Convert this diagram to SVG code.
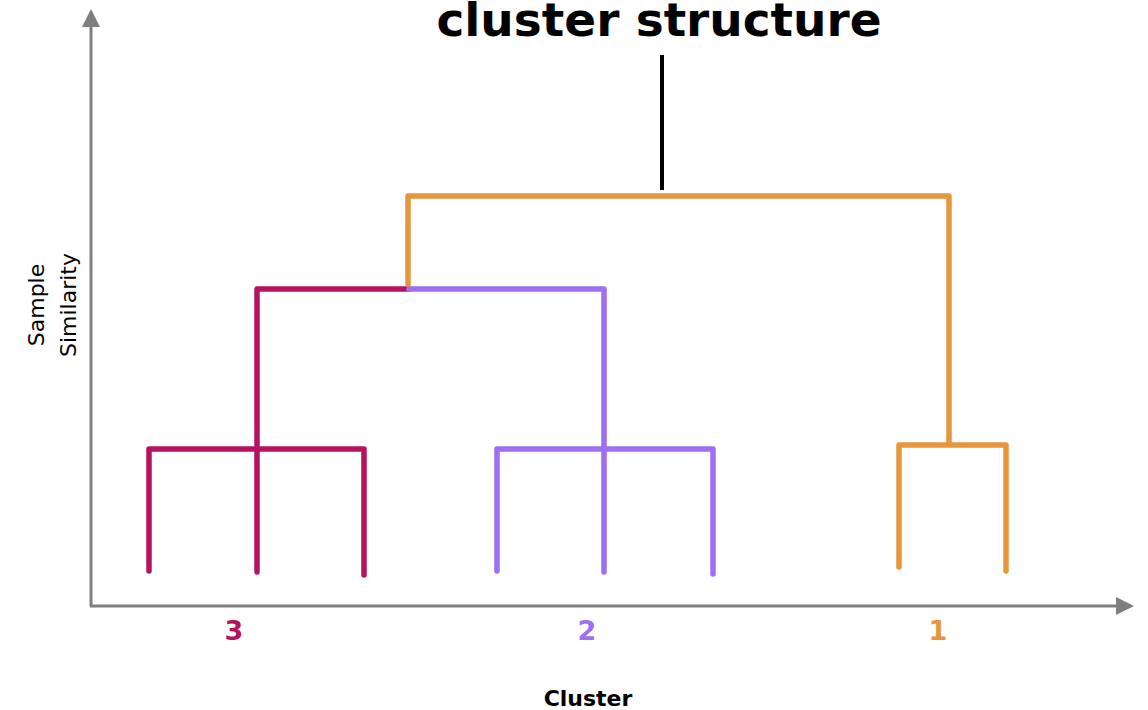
<svg xmlns="http://www.w3.org/2000/svg" width="1148" height="710" viewBox="0 0 1148 710">
<style>
.ax{stroke:#7f7f7f;stroke-width:3;fill:none}
.m{stroke:#B5135F;stroke-width:5.5;fill:none;stroke-linecap:round;stroke-linejoin:round}
.p{stroke:#9F6EF2;stroke-width:5.5;fill:none;stroke-linecap:round;stroke-linejoin:round}
.o{stroke:#E8963C;stroke-width:5.5;fill:none;stroke-linecap:round;stroke-linejoin:round}
.num{font-family:"DejaVu Sans",sans-serif;font-weight:bold;font-size:27px;text-anchor:middle}
</style>
<defs>
<marker id="ah" markerWidth="6" markerHeight="6" refX="5" refY="3" orient="auto" markerUnits="strokeWidth"><path d="M0,0 L6,3 L0,6 Z" fill="#7f7f7f"/></marker>
</defs>
<rect width="1148" height="710" fill="#fff"/>
<g id="axes">
<line class="ax" x1="91" y1="606" x2="91" y2="12" marker-end="url(#ah)"/>
<line class="ax" x1="90" y1="606" x2="1131" y2="606" marker-end="url(#ah)"/>
</g>
<g id="connectors">
<path class="m" d="M149,571 V449 H364 V575 M257,572 V289 H409"/>
<path class="p" d="M409,289 H604 V572 M497,571 V449 H713 V574"/>
<path class="o" d="M408,284 V196 H949 V445 M899,567 V445 H1006 V571"/>
<line x1="662" y1="55" x2="662" y2="190" stroke="#000" stroke-width="4"/>
</g>
<g id="title"><text x="659" y="36" font-family="DejaVu Sans,sans-serif" font-weight="bold" font-size="47" text-anchor="middle">cluster structure</text></g>
<g id="labels">
<text class="num" x="234" y="640" fill="#B5135F">3</text>
<text class="num" x="587" y="640" fill="#9F6EF2">2</text>
<text class="num" x="938" y="640" fill="#E8963C">1</text>
<text x="588" y="706" font-family="DejaVu Sans,sans-serif" font-weight="bold" font-size="22" text-anchor="middle">Cluster</text>
<g transform="translate(0,305) rotate(-90)" font-family="DejaVu Sans,sans-serif" font-size="22" text-anchor="middle">
<text x="0" y="44">Sample</text>
<text x="0" y="76">Similarity</text>
</g>
</g>
</svg>
